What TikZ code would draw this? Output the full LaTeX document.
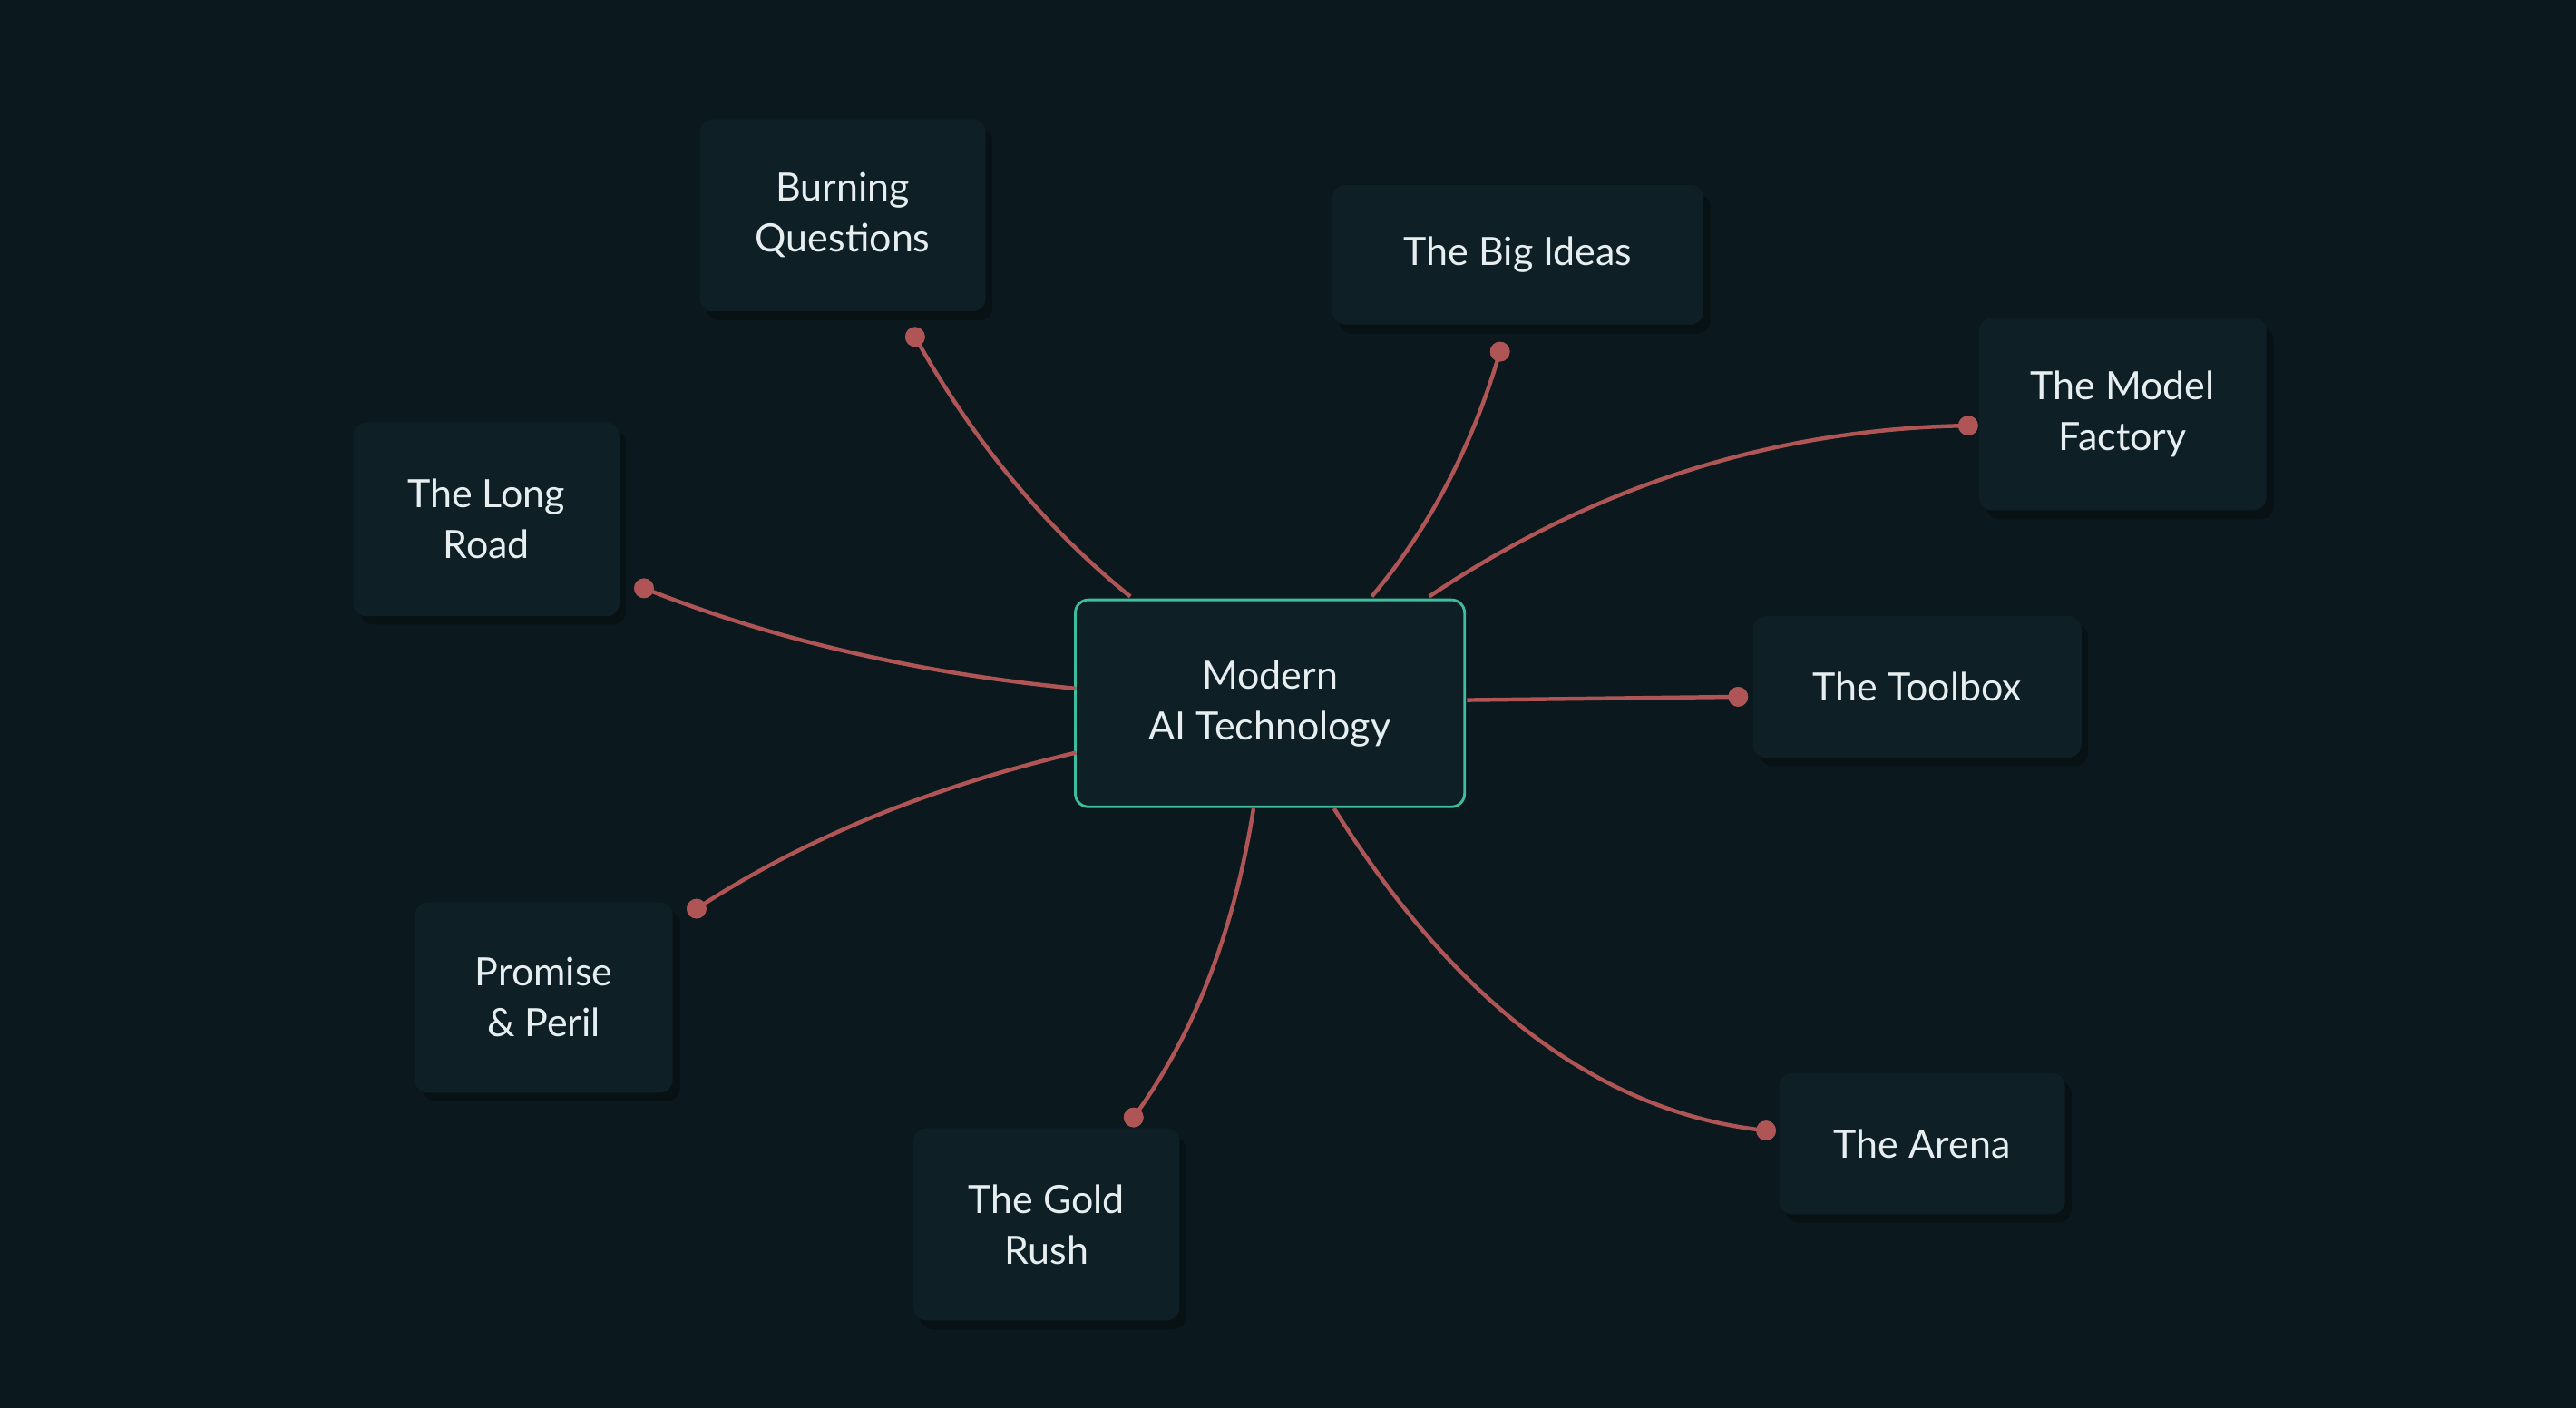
\documentclass[tikz,border=0pt]{standalone}
\usepackage{fontspec}
\usetikzlibrary{calc}
\setmainfont{Lato}
\begin{document}
\definecolor{bg}{HTML}{0B181D}
\definecolor{boxf}{HTML}{0F1F26}
\definecolor{shad}{HTML}{081215}
\definecolor{edge}{HTML}{B05555}
\definecolor{teal}{HTML}{3DBF9F}
\definecolor{txt}{HTML}{E6EEF0}
\begin{tikzpicture}[x=0.02cm,y=-0.02cm,
  leaf/.style={draw=none,fill=boxf,rounded corners=0.16cm,text=txt,align=center,
    font=\fontsize{13.5}{17.6}\selectfont,inner sep=0pt},
  hub/.style={leaf,draw=teal,line width=0.9pt},
  link/.style={draw=edge,line width=1.4pt},
  dot/.style={circle,fill=edge,inner sep=0pt,minimum size=0.24cm}]
\fill[bg] (0,0) rectangle (1568,857);
\useasboundingbox (0,0) rectangle (1568,857);
\foreach \a/\b/\c/\d in {426/73/600/190,811/113/1037/198,1205/194/1380/311,215/257/377/375,1067/375/1267/461,253/549/410/665,556/687/718/804,1083/653/1257/739}
  \fill[shad,rounded corners=0.16cm] (\a+4,\b+5) rectangle (\c+4,\d+5);
\node[hub,minimum width=4.74cm,minimum height=2.52cm] (c) at (773,428) {Modern\\AI Technology};
\node[leaf,minimum width=3.48cm,minimum height=2.34cm] (bq) at (513,131) {Burning\\Questions};
\node[leaf,minimum width=4.52cm,minimum height=1.70cm] (bi) at (924,155) {The Big Ideas};
\node[leaf,minimum width=3.50cm,minimum height=2.34cm] (mf) at (1292,252) {The Model\\Factory};
\node[leaf,minimum width=3.24cm,minimum height=2.36cm] (lr) at (296,316) {The Long\\Road};
\node[leaf,minimum width=4.00cm,minimum height=1.72cm] (tb) at (1167,418) {The Toolbox};
\node[leaf,minimum width=3.14cm,minimum height=2.32cm] (pp) at (331,607) {Promise\\\& Peril};
\node[leaf,minimum width=3.24cm,minimum height=2.34cm] (gr) at (637,745) {The Gold\\Rush};
\node[leaf,minimum width=3.48cm,minimum height=1.72cm] (ar) at (1170,696) {The Arena};
\coordinate (s1) at (688,363); \node[dot] (d1) at (557,205) {}; \coordinate (q1) at (610,300);
\coordinate (s2) at (835,363); \node[dot] (d2) at (913,214) {}; \coordinate (q2) at (888,300);
\coordinate (s3) at (870,363); \node[dot] (d3) at (1198,259) {}; \coordinate (q3) at (1020,262);
\coordinate (s4) at (655,419); \node[dot] (d4) at (392,358) {}; \coordinate (q4) at (510,405);
\coordinate (s5) at (893,426); \node[dot] (d5) at (1058,424) {};
\coordinate (s6) at (655,458); \node[dot] (d6) at (424,553) {}; \coordinate (q6) at (520,490);
\coordinate (s7) at (763,492); \node[dot] (d7) at (690,680) {}; \coordinate (q7) at (745,605);
\coordinate (s8) at (812,492); \node[dot] (d8) at (1075,688) {}; \coordinate (q8) at (925,672);
\foreach \i in {1,2,3,4,6,7,8}
  \draw[link] (s\i) .. controls ($(s\i)!0.667!(q\i)$) and ($(d\i.center)!0.667!(q\i)$) .. (d\i.center);
\draw[link] (s5) -- (d5.center);
\foreach \i in {1,...,8} \node[dot] at (d\i) {};
\end{tikzpicture}
\end{document}
